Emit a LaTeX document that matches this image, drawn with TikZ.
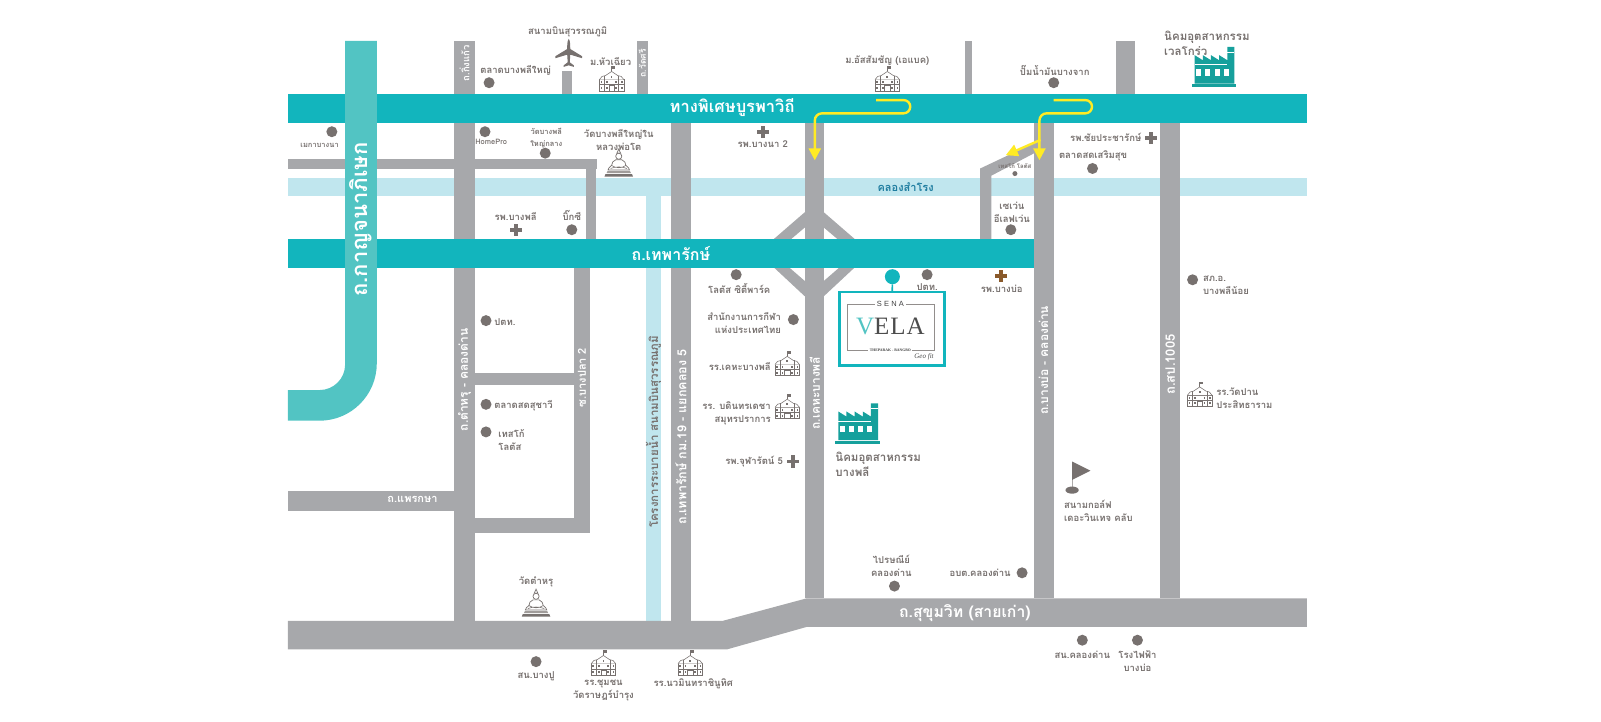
\documentclass[tikz,border=0pt]{standalone}
\usepackage{fontspec}
\newfontfamily\thai[Script=Thai]{Loma}
\newfontfamily\logofont[LetterSpace=4]{Liberation Serif}
\newfontfamily\senafont[LetterSpace=30]{Liberation Sans}
\newfontfamily\geofont{Liberation Serif}
\usetikzlibrary{arrows.meta}
\definecolor{roadgray}{HTML}{A7A8AB}
\definecolor{expteal}{HTML}{12B5BD}
\definecolor{kanteal}{HTML}{52C4C3}
\definecolor{canal}{HTML}{C0E6EE}
\definecolor{txtgray}{HTML}{77716F}
\definecolor{factteal}{HTML}{16A09C}
\definecolor{canaltxt}{HTML}{1F7DA0}
\definecolor{arrowy}{HTML}{FFEB24}
\definecolor{brownplus}{HTML}{8A5A2B}
\tikzset{
  road/.style={fill=roadgray},
  lbl/.style={font=\thai\bfseries\fontsize{9.5}{13}\selectfont,text=txtgray,inner sep=0pt,align=center},
  lbll/.style={lbl,align=left,anchor=west},
  lblr/.style={lbl,align=right,anchor=east},
  biglbl/.style={font=\thai\bfseries\fontsize{11.5}{15}\selectfont,text=txtgray,inner sep=0pt,align=left,anchor=west},
  rdtxt/.style={font=\thai\bfseries\fontsize{12}{14}\selectfont,text=white,inner sep=0pt},
  rdtxtv/.style={rdtxt,rotate=90},
  bandtxt/.style={font=\thai\bfseries\fontsize{16.5}{18}\selectfont,text=white,inner sep=0pt},
  dot/.style={circle,fill=txtgray,inner sep=0pt,minimum size=11pt},
  yarrow/.style={draw=arrowy,line width=2.4pt,-{Triangle[length=12pt,width=12pt,fill=arrowy]}},
  school/.pic={
    \begin{scope}[draw=txtgray,line width=.55pt]
      \draw (0,-9) -- (0,-14); \fill[txtgray] (0,-14) rectangle (3.5,-11.5);
      \draw (-12,10) rectangle (12,-1);
      \draw[fill=white] (-12,-1) .. controls (-11,-4) and (-8,-5) .. (-6,-5) -- (0,-9) -- (6,-5) .. controls (8,-5) and (11,-4) .. (12,-1);
      \draw (-7,10) -- (-7,-5) (7,10) -- (7,-5);
      \draw (-2.5,10) rectangle (2.5,5);
      \draw (-12,4) -- (12,4);
      \foreach \u in {-10,-4.5,4.5,10} {\fill[txtgray] (\u-.8,0.5) rectangle (\u+.8,2.5); \fill[txtgray] (\u-.8,6) rectangle (\u+.8,8);}
      \fill[txtgray] (-.8,-5) rectangle (.8,-3);
    \end{scope}},
  buddha/.pic={
    \fill[txtgray] (-13,10.5) -- (13,10.5) -- (14,13) -- (-14,13) -- cycle;
    \fill[txtgray!70] (-11,7.5) -- (11,7.5) -- (12,9.5) -- (-12,9.5) -- cycle;
    \draw[txtgray,line width=.7pt,fill=white] (-3,-3.5) .. controls (-6,-3) and (-6.5,0) .. (-7,2) .. controls (-9,3.5) and (-10.5,5) .. (-10.5,6.5) -- (10.5,6.5) .. controls (10.5,5) and (9,3.5) .. (7,2) .. controls (6.5,0) and (6,-3) .. (3,-3.5) -- cycle;
    \draw[txtgray,line width=.7pt,fill=white] (0,-14) -- (-1.8,-10) -- (1.8,-10) -- cycle;
    \draw[txtgray,line width=.7pt,fill=white] (0,-7) circle (3);
    \draw[txtgray,line width=.6pt] (-7,2) .. controls (-3,5) and (3,5) .. (7,2) (-8,5) .. controls (-3,3) and (3,3) .. (8,5);},
  factory/.pic={
    \fill[factteal] (-19,-10) -- (-19,-18) -- (-11,-13) -- (-11,-18) -- (-3,-13) -- (-3,-18) -- (5,-13) -- (5,-18) -- (13,-13) -- (13,-26) -- (20,-26) -- (20,10) -- (-19,10) -- cycle;
    \fill[factteal] (-22,10.5) rectangle (22,13.5);
    \fill[white] (13,-21) rectangle (20,-20);
    \foreach \u in {-15,-6,3,12} {\fill[white] (\u-2.5,-4) rectangle (\u+2.5,2);}
    \fill[white] (-19,-9) rectangle (13,-8);},
  plane/.pic={
    \fill[txtgray] (0,-14) .. controls (1.5,-12) and (1.5,-8) .. (1.5,-4) -- (13,3) -- (13,5) -- (1.5,1.5) -- (1,9) -- (5,12) -- (5,13.5) -- (0,12) -- (-5,13.5) -- (-5,12) -- (-1,9) -- (-1.5,1.5) -- (-13,5) -- (-13,3) -- (-1.5,-4) .. controls (-1.5,-8) and (-1.5,-12) .. (0,-14) -- cycle;},
  plusmark/.pic={
    \fill[pic actions] (-6,-1.9) rectangle (6,1.9);
    \fill[pic actions] (-1.9,-6) rectangle (1.9,6);},
  flagmark/.pic={
    \draw[txtgray!60,line width=.6pt] (0,0) -- (0,26);
    \fill[txtgray] (0,0) -- (18,9) -- (0,18) -- cycle;
    \fill[txtgray] (0,28) ellipse (6.5 and 3.5);}
}
\begin{document}
\begin{tikzpicture}[x=1.02105pt,y=-1.02105pt]
\useasboundingbox (0,0) rectangle (1568,706.15);
% khlong
\fill[canal] (282,174) rectangle (1280,192);
\fill[canal] (633,192) rectangle (647,608);
% gray roads
\fill[road] (445,40) rectangle (465,608);
\fill[road] (282,156) rectangle (585,166);
\fill[road] (574,166) rectangle (584,234);
\fill[road] (562,262) rectangle (578,522);
\fill[road] (465,365) rectangle (562,377);
\fill[road] (465,507) rectangle (578,522);
\fill[road] (282,481) rectangle (445,500);
\fill[road] (657,120) rectangle (677,608);
\fill[road] (788,120) rectangle (807,586);
\fill[road] (1013,120) rectangle (1032,586);
\fill[road] (1136,120) rectangle (1156,586);
\fill[road] (550,70) rectangle (560,92);
\fill[road] (624,40) rectangle (635,92);
\fill[road] (945,40) rectangle (952,92);
\fill[road] (1093,40) rectangle (1112,92);
\fill[road] (282,608) -- (708,608) -- (790,586) -- (1280,586) -- (1280,614) -- (790,614) -- (712,636) -- (282,636) -- cycle;
\fill[road] (1013,140) -- (960,165) -- (960,234) -- (971,234) -- (971,172) -- (1013,150) -- cycle;
% diagonals
\fill[road] (788,208) -- (758,234) -- (775,234) -- (788,223) -- (807,223) -- (820,234) -- (837,234) -- (807,208) -- cycle;
\fill[road] (758,262) -- (773,262) -- (788,275) -- (807,275) -- (822,262) -- (837,262) -- (807,290) -- (788,290) -- cycle;
% teal bands
\fill[expteal] (282,92) rectangle (1280,120);
\fill[expteal] (282,234) rectangle (1013,262);
\fill[kanteal] (338,40) -- (369,40) -- (369,356) arc[start angle=0,end angle=90,radius=56] -- (282,412) -- (282,382) -- (313,382) arc[start angle=90,end angle=0,radius=25] -- cycle;
% yellow arrows
\coordinate (a1s) at (858,98);
\coordinate (a1t) at (798,157);
\coordinate (a2s) at (1032,98);
\coordinate (a2t) at (1018,157);
\coordinate (a3s) at (1019,137);
\coordinate (a3t) at (985,152);
\draw[yarrow] (a1s) -- (885,98) arc[start angle=-90,end angle=90,radius=6.5] -- (805,111) arc[start angle=-90,end angle=-180,radius=7] -- (a1t);
\draw[yarrow] (a2s) -- (1063,98) arc[start angle=-90,end angle=90,radius=6.5] -- (1025,111) arc[start angle=-90,end angle=-180,radius=7] -- (a2t);
\draw[yarrow] (a3s) -- (a3t);
% road labels
\node[bandtxt] (nExp) at (717,105) {ทางพิเศษบูรพาวิถี};
\node[bandtxt,font=\thai\bfseries\fontsize{16}{18}\selectfont] (nThep) at (657,248) {ถ.เทพารักษ์};
\node[bandtxt,rotate=90,font=\thai\bfseries\fontsize{22}{24}\selectfont] (nKan) at (353,215) {ถ.กาญจนาภิเษก};
\node[bandtxt,font=\thai\bfseries\fontsize{15.8}{18}\selectfont] (nSuk) at (945,600) {ถ.สุขุมวิท (สายเก่า)};
\node[rdtxtv,font=\thai\bfseries\fontsize{9.5}{12}\selectfont] (rKing) at (455,62) {ถ.กิ่งแก้ว};
\node[rdtxtv,font=\thai\bfseries\fontsize{8.5}{9}\selectfont] (rWat) at (629,62) {ถ.วัดศรี};
\node[rdtxtv] (rTam) at (455,372) {ถ.ตำหรุ - คลองด่าน};
\node[rdtxtv,font=\thai\bfseries\fontsize{11}{12}\selectfont] (rSoi) at (570,370) {ซ.บางปลา 2};
\node[rdtxtv,font=\thai\bfseries\fontsize{12.5}{14}\selectfont] (rKm) at (667,428) {ถ.เทพารักษ์ กม.19 - แยกคลอง 5};
\node[rdtxtv] (rKeh) at (798,385) {ถ.เคหะบางพลี};
\node[rdtxtv] (rBo) at (1022,353) {ถ.บางบ่อ - คลองด่าน};
\node[rdtxtv,font=\thai\bfseries\fontsize{13}{14}\selectfont] (rSp) at (1146,357) {ถ.สป.1005};
\node[rdtxt,font=\thai\bfseries\fontsize{11}{14}\selectfont] (rPrae) at (404,489) {ถ.แพรกษา};
\node[lbl,rotate=90,font=\thai\bfseries\fontsize{11.5}{13}\selectfont] (rDrain) at (640,423) {โครงการระบายน้ำ สนามบินสุวรรณภูมิ};
\node[font=\thai\bfseries\fontsize{11}{13}\selectfont,text=canaltxt,inner sep=0pt] (nKhl) at (887,183) {คลองสำโรง};
% top
\node[lbl] (t1) at (556,31) {สนามบินสุวรรณภูมิ};
\pic at (557,52) {plane};
\node[lbl] (t2) at (505,69) {ตลาดบางพลีใหญ่};
\node[dot] (d2) at (479,81) {};
\node[lbl] (t3) at (598,60) {ม.หัวเฉียว};
\pic at (599,79) {school};
\node[lbl] (t4) at (869,59) {ม.อัสสัมชัญ (เอแบค)};
\pic at (869,79) {school};
\node[lbl] (t5) at (1033,69) {ปั๊มน้ำมันบางจาก};
\node[dot] (d5) at (1032,81) {};
\node[biglbl] (t6) at (1140,42) {นิคมอุตสาหกรรม\\เวลโกร่ว};
\pic at (1189,72) {factory};
% below express
\node[dot] (d7) at (325,129) {};
\node[lbl,font=\thai\bfseries\fontsize{7.5}{9}\selectfont] (t7) at (313,142) {เมกาบางนา};
\node[dot] (d8) at (475,129) {};
\node[lbl,font=\thai\bfseries\fontsize{7.5}{9}\selectfont] (t8) at (481,139) {HomePro};
\node[lbl,font=\thai\bfseries\fontsize{7.5}{12}\selectfont] (t9) at (535,135) {วัดบางพลี\\ใหญ่กลาง};
\node[dot] (d9) at (534,150) {};
\node[lbl] (t10) at (606,137) {วัดบางพลีใหญ่ใน\\หลวงพ่อโต};
\pic at (606,160) {buddha};
\pic[fill=txtgray] at (747,129) {plusmark};
\node[lbl] (t11) at (747,141) {รพ.บางนา 2};
\node[lblr] (t12) at (1118,135) {รพ.ชัยประชารักษ์};
\pic[fill=txtgray] at (1127,135) {plusmark};
\node[lbll] (t13) at (1037,153) {ตลาดสดเสริมสุข};
\node[dot] (d13) at (1070,165) {};
\node[lbl,font=\thai\bfseries\fontsize{6}{8}\selectfont] (t14) at (994,163) {เทสโก้ โลตัส};
\node[circle,fill=txtgray,inner sep=0pt,minimum size=5pt] (d14) at (994,170) {};
\node[lbl] (t15) at (991,208) {เซเว่น\\อีเลฟเว่น};
\node[dot] (d15) at (990,225) {};
\node[lbl] (t16) at (505,212) {รพ.บางพลี};
\pic[fill=txtgray] at (505,225) {plusmark};
\node[lbl] (t17) at (560,211) {บิ๊กซี};
\node[dot] (d17) at (560,225) {};
% west block
\node[dot] (d18) at (476,314) {};
\node[lbll] (t18) at (484,315) {ปตท.};
\node[dot] (d19) at (476,396) {};
\node[lbll] (t19) at (484,397) {ตลาดสดสุชาวี};
\node[dot] (d20) at (476,423) {};
\node[lbll] (t20) at (488,431) {เทสโก้\\โลตัส};
% centre
\node[dot] (d21) at (721,269) {};
\node[lbl] (t21) at (724,283) {โลตัส ซิตี้พาร์ค};
\node[lblr] (t22) at (765,316) {สำนักงานการกีฬา\\แห่งประเทศไทย};
\node[dot] (d22) at (777,313) {};
\node[lblr] (t23) at (755,359) {รร.เคหะบางพลี};
\pic at (771,358) {school};
\node[lblr] (t24) at (755,405) {รร. บดินทรเดชา\\สมุทรปราการ};
\pic at (771,400) {school};
\node[lblr] (t25) at (767,452) {รพ.จุฬารัตน์ 5};
\pic[fill=txtgray] at (777,452) {plusmark};
\pic at (840,421) {factory};
\node[biglbl] (t26) at (818,455) {นิคมอุตสาหกรรม\\บางพลี};
% project
\node[circle,fill=expteal,inner sep=0pt,minimum size=15pt] (pin) at (874,271) {};
\node[draw=expteal,line width=2.4pt,fill=white,minimum width=105pt,minimum height=73.5pt,inner sep=0pt] (box) at (873.5,322) {};
\draw[expteal,line width=1.6pt] (pin) -- (box);
\draw[txtgray!80,line width=.5pt] (830,298) rectangle (915,343);
\node[fill=white,inner sep=2pt,font=\senafont\fontsize{7.5}{9}\selectfont,text=black!75] (sena) at (872,298) {SENA};
\node[inner sep=0pt,font=\logofont\fontsize{25}{26}\selectfont,text=black!70] (vela) at (872,320) {\textcolor{kanteal}{V}ELA};
\node[fill=white,inner sep=1.5pt,font=\geofont\bfseries\fontsize{3.8}{4}\selectfont,text=black!75] (thep) at (872,343) {THEPARAK - BANGBO};
\node[inner sep=0pt,font=\geofont\itshape\fontsize{7}{8}\selectfont,text=black!70] (geo) at (905,349) {Geo fit};
\node[dot] (d27) at (908,269) {};
\node[lbl] (t27) at (908,281) {ปตท.};
\pic[fill=brownplus] at (980,270) {plusmark};
\node[lbl] (t28) at (981,283) {รพ.บางบ่อ};
% east
\node[dot] (d29) at (1168,274) {};
\node[lbll] (t29) at (1178,279) {สภ.อ.\\บางพลีน้อย};
\pic at (1175,388) {school};
\node[lbll] (t30) at (1191,390) {รร.วัดปาน\\ประสิทธาราม};
\pic at (1050,452) {flagmark};
\node[lbll] (t31) at (1042,500) {สนามกอล์ฟ\\เดอะวินเทจ คลับ};
\node[lbl] (t32) at (873,554) {ไปรษณีย์\\คลองด่าน};
\node[dot] (d32) at (876,574) {};
\node[lblr] (t33) at (990,561) {อบต.คลองด่าน};
\node[dot] (d33) at (1001,561) {};
% south
\node[dot] (d34) at (1060,627) {};
\node[lbl] (t34) at (1060,641) {สน.คลองด่าน};
\node[dot] (d35) at (1114,627) {};
\node[lbl] (t35) at (1114,647) {โรงไฟฟ้า\\บางบ่อ};
\node[lbl] (t36) at (525,570) {วัดตำหรุ};
\pic at (525,591) {buddha};
\node[dot] (d37) at (525,648) {};
\node[lbl] (t37) at (525,662) {สน.บางปู};
\pic at (591,651) {school};
\node[lbl] (t38) at (591,676) {รร.ชุมชน\\วัดราษฎร์บำรุง};
\pic at (676,651) {school};
\node[lbl] (t39) at (679,670) {รร.นวมินทราชินูทิศ};
\end{tikzpicture}
\end{document}
